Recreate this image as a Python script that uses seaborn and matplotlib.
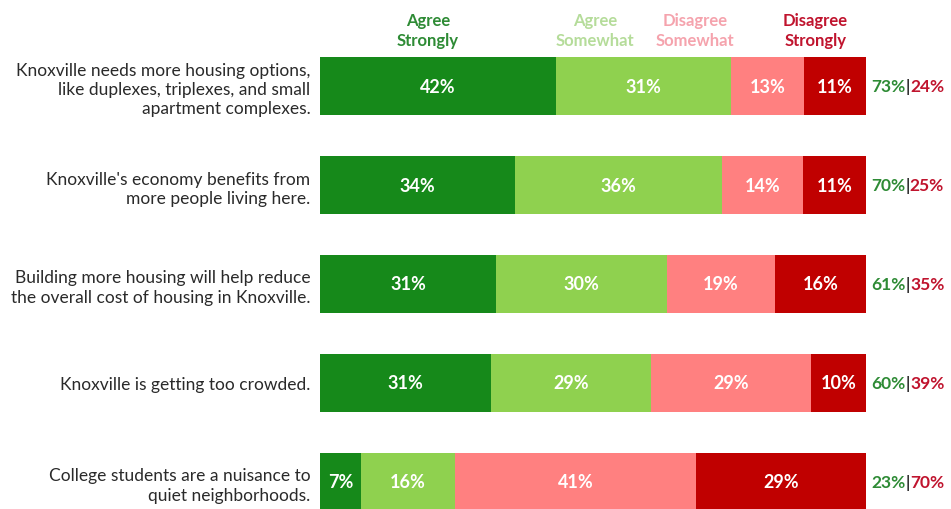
import numpy as np
import pandas as pd
import matplotlib
matplotlib.use('Agg')
import matplotlib.pyplot as plt
import seaborn as sb

# survey statements (already wrapped like in the original slide)
statements = ['Knoxville needs more housing options,\nlike duplexes, triplexes, and small\napartment complexes.',
              "Knoxville's economy benefits from\nmore people living here.",
              'Building more housing will help reduce\nthe overall cost of housing in Knoxville.',
              'Knoxville is getting too crowded.',
              'College students are a nuisance to\nquiet neighborhoods.']
categories = ['Agree\nStrongly', 'Agree\nSomewhat', 'Disagree\nSomewhat', 'Disagree\nStrongly']
agree_strongly = [42, 34, 31, 31, 7]
agree_somewhat = [31, 36, 30, 29, 16]
disagree_somewhat = [13, 14, 19, 29, 41]
disagree_strongly = [11, 11, 16, 10, 29]
agree_total = [73, 70, 61, 60, 23]
disagree_total = [24, 25, 35, 39, 70]

cat_colors = ['#16891a', '#8fd14f', '#ff8080', '#c00000']
head_colors = ['#2e8b35', '#b5dc9a', '#f5a3ad', '#c0142e']

sb.set_style('white')
plt.rcParams['font.family'] = ['Lato', 'DejaVu Sans']

df = pd.DataFrame({'Statement': statements,
                   categories[0]: agree_strongly,
                   categories[1]: agree_somewhat,
                   categories[2]: disagree_somewhat,
                   categories[3]: disagree_strongly})
vals = df[categories]
shares = vals.div(vals.sum(axis=1), axis=0) * 100  # the slide stretches every bar to full width
cum = shares.cumsum(axis=1)

fig = plt.figure(figsize=(9.51, 5.10), dpi=100)
ax = fig.add_axes([0.3365, 0, 0.574, 1])

# draw the cumulative layers from the widest one down so they look stacked
for i in range(len(categories) - 1, -1, -1):
    sb.barplot(x=cum[categories[i]], y=df['Statement'], orient='h', color=cat_colors[i],
               width=0.59, ax=ax, saturation=1, linewidth=0)

for row in range(len(statements)):
    left = 0
    for i, cat in enumerate(categories):
        w = shares.loc[row, cat]
        ax.text(left + w / 2, row, str(vals.loc[row, cat]) + '%', ha='center', va='center',
                color='white', fontsize=13, fontweight='bold')
        left += w
    # agree|disagree totals to the right of the bar
    t = ax.text(101.0, row, str(agree_total[row]) + '%', color='#2e8b35', fontsize=12.5,
                fontweight='bold', va='center', ha='left')
    t2 = ax.annotate('|', xycoords=t, xy=(1, 0.5), va='center', ha='left', color='#333333',
                     fontsize=12.5, fontweight='bold')
    ax.annotate(str(disagree_total[row]) + '%', xycoords=t2, xy=(1, 0.5), va='center', ha='left',
                color='#c0142e', fontsize=12.5, fontweight='bold')

head_x = [19.8, 50.4, 68.7, 90.7]
for i, cat in enumerate(categories):
    ax.text(head_x[i], -0.38, cat, ha='center', va='bottom', color=head_colors[i],
            fontsize=12, fontweight='bold', linespacing=1.3)

ax.set_xlim(0, 100)
ax.set_ylim(4.273, -0.879)
ax.set_xlabel('')
ax.set_ylabel('')
ax.set_xticks([])
ax.tick_params(axis='y', length=0, pad=7, labelsize=12.5, labelcolor='#2a2a2a')
for lab in ax.get_yticklabels():
    lab.set_ha('right')
    lab.set_linespacing(1.25)
sb.despine(ax=ax, left=True, bottom=True)

plt.savefig('out.png', dpi=100)
